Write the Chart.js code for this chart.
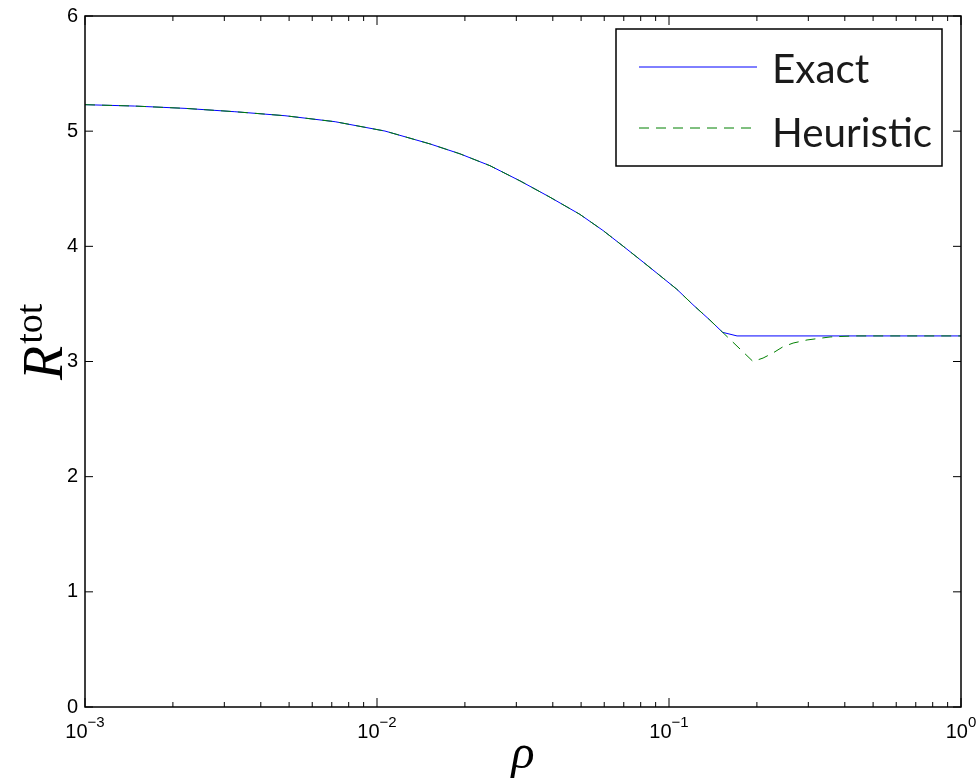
<!DOCTYPE html>
<html>
<head>
<meta charset="utf-8">
<script src="https://cdn.jsdelivr.net/npm/chart.js@4.4.1/dist/chart.umd.min.js"></script>
<style>
  html, body { margin: 0; padding: 0; background: #fff; }
  #wrap { width: 976px; height: 783px; }
</style>
</head>
<body>
<div id="wrap"><canvas id="rtotChart" width="976" height="783"></canvas></div>
<script>
// values
const exactRho = [0.001, 0.00148, 0.0022, 0.00326, 0.00484, 0.00719, 0.01065, 0.0152, 0.01925, 0.02438, 0.0309, 0.0391, 0.0495, 0.0594, 0.0696, 0.0815, 0.0931, 0.1064, 0.1208, 0.138, 0.1527, 0.171, 1.0];
const exactR   = [5.230, 5.218, 5.198, 5.169, 5.134, 5.082, 5.001, 4.889, 4.803, 4.700, 4.568, 4.427, 4.278, 4.138, 4.002, 3.864, 3.746, 3.627, 3.493, 3.360, 3.253, 3.222, 3.222];

const heurRho = [0.001, 0.00148, 0.0022, 0.00326, 0.00484, 0.00719, 0.01065, 0.0152, 0.01925, 0.02438, 0.0309, 0.0391, 0.0495, 0.0594, 0.0696, 0.0815, 0.0931, 0.1064, 0.1208, 0.138, 0.1527, 0.194, 0.21, 0.227, 0.245, 0.266, 0.297, 0.356, 0.427, 1.0];
const heurR   = [5.230, 5.218, 5.198, 5.169, 5.134, 5.082, 5.001, 4.889, 4.803, 4.700, 4.568, 4.427, 4.278, 4.138, 4.002, 3.864, 3.746, 3.627, 3.493, 3.360, 3.253, 3.0, 3.03, 3.074, 3.126, 3.16, 3.187, 3.213, 3.222, 3.222];

const yTicks = [0, 1, 2, 3, 4, 5, 6];
const xDecades = [-3, -2, -1, 0];
const seriesNames = ['Exact', 'Heuristic'];

function toPoints(xs, ys) {
  return xs.map((x, i) => ({ x: x, y: ys[i] }));
}

// frame, inward ticks, labels, titles and legend in matlab style
const matlabAxes = {
  id: 'matlabAxes',
  afterDraw(chart) {
    const ctx = chart.ctx;
    const a = chart.chartArea;
    const xs = chart.scales.x;
    const ys = chart.scales.y;
    ctx.save();

    ctx.strokeStyle = '#000';
    ctx.lineWidth = 1.5;
    ctx.strokeRect(a.left, a.top, a.right - a.left, a.bottom - a.top);

    // y ticks
    ctx.lineWidth = 1;
    ctx.fillStyle = '#000';
    ctx.font = '20px "Liberation Sans", Arial, sans-serif';
    ctx.textAlign = 'right';
    ctx.textBaseline = 'middle';
    yTicks.forEach(v => {
      const py = ys.getPixelForValue(v);
      ctx.beginPath();
      ctx.moveTo(a.left, py); ctx.lineTo(a.left + 8, py);
      ctx.moveTo(a.right, py); ctx.lineTo(a.right - 8, py);
      ctx.stroke();
      ctx.fillText(String(v), a.left - 7, py);
    });

    // x ticks, major and minor
    xDecades.forEach((d, i) => {
      const px = xs.getPixelForValue(Math.pow(10, d));
      ctx.beginPath();
      ctx.moveTo(px, a.bottom); ctx.lineTo(px, a.bottom - 9);
      ctx.moveTo(px, a.top); ctx.lineTo(px, a.top + 9);
      ctx.stroke();
      if (i < xDecades.length - 1) {
        for (let m = 2; m <= 9; m++) {
          const mx = xs.getPixelForValue(m * Math.pow(10, d));
          ctx.beginPath();
          ctx.moveTo(mx, a.bottom); ctx.lineTo(mx, a.bottom - 5);
          ctx.moveTo(mx, a.top); ctx.lineTo(mx, a.top + 5);
          ctx.stroke();
        }
      }
      // label 10^d
      const base = '10';
      const sup = d === 0 ? '0' : '\u2212' + Math.abs(d);
      ctx.font = '20px "Liberation Sans", Arial, sans-serif';
      const wb = ctx.measureText(base).width;
      ctx.font = '15px "Liberation Sans", Arial, sans-serif';
      const ws = ctx.measureText(sup).width;
      const x0 = px - (wb + ws) / 2;
      ctx.textAlign = 'left';
      ctx.textBaseline = 'alphabetic';
      ctx.font = '20px "Liberation Sans", Arial, sans-serif';
      ctx.fillText(base, x0, a.bottom + 31);
      ctx.font = '15px "Liberation Sans", Arial, sans-serif';
      ctx.fillText(sup, x0 + wb, a.bottom + 20);
    });

    // x title
    ctx.font = 'italic 48px "Liberation Serif", "DejaVu Serif", serif';
    ctx.textAlign = 'center';
    ctx.textBaseline = 'alphabetic';
    ctx.fillText('\u03c1', (a.left + a.right) / 2, 768);

    // y title R^tot
    ctx.save();
    ctx.translate(62, 380);
    ctx.rotate(-Math.PI / 2);
    ctx.textAlign = 'left';
    ctx.font = 'italic 56px "Liberation Serif", "DejaVu Serif", serif';
    const wr = ctx.measureText('R').width;
    ctx.fillText('R', 0, 0);
    ctx.font = '38px "Liberation Serif", "DejaVu Serif", serif';
    ctx.fillText('tot', wr + 2, -20);
    ctx.restore();

    // legend
    const box = { left: 616, top: 29, right: 942, bottom: 166 };
    ctx.fillStyle = '#fff';
    ctx.fillRect(box.left, box.top, box.right - box.left, box.bottom - box.top);
    ctx.strokeStyle = '#000';
    ctx.lineWidth = 1.5;
    ctx.strokeRect(box.left, box.top, box.right - box.left, box.bottom - box.top);
    const rows = [67, 128];
    const baselines = [83, 147];
    ctx.font = '40px Lato, "Open Sans", sans-serif';
    const fit = 40 * 160 / ctx.measureText('Heuristic').width;
    chart.data.datasets.forEach((ds, i) => {
      ctx.strokeStyle = ds.borderColor;
      ctx.lineWidth = ds.borderWidth;
      ctx.setLineDash(ds.borderDash || []);
      ctx.beginPath();
      ctx.moveTo(639, rows[i]); ctx.lineTo(757, rows[i]);
      ctx.stroke();
      ctx.setLineDash([]);
      ctx.fillStyle = '#1a1a1a';
      ctx.font = fit.toFixed(1) + 'px Lato, "Open Sans", sans-serif';
      ctx.textAlign = 'left';
      ctx.textBaseline = 'alphabetic';
      ctx.fillText(ds.label, 772, baselines[i]);
    });

    ctx.restore();
  }
};

const ctx = document.getElementById('rtotChart');

new Chart(ctx, {
  type: 'line',
  data: {
    datasets: [
      {
        label: seriesNames[0],
        data: toPoints(exactRho, exactR),
        borderColor: '#0000ff',
        borderWidth: 1,
        pointRadius: 0,
        tension: 0,
        order: 2
      },
      {
        label: seriesNames[1],
        data: toPoints(heurRho, heurR),
        borderColor: '#008000',
        borderWidth: 1,
        borderDash: [10, 7],
        pointRadius: 0,
        tension: 0,
        order: 1
      }
    ]
  },
  options: {
    responsive: false,
    animation: false,
    events: [],
    layout: {
      padding: { left: 85, right: 15, top: 16, bottom: 76 }
    },
    plugins: {
      legend: { display: false },
      tooltip: { enabled: false }
    },
    scales: {
      x: {
        type: 'logarithmic',
        min: 0.001,
        max: 1,
        display: false
      },
      y: {
        type: 'linear',
        min: 0,
        max: 6,
        display: false
      }
    }
  },
  plugins: [matlabAxes]
});
</script>
</body>
</html>
